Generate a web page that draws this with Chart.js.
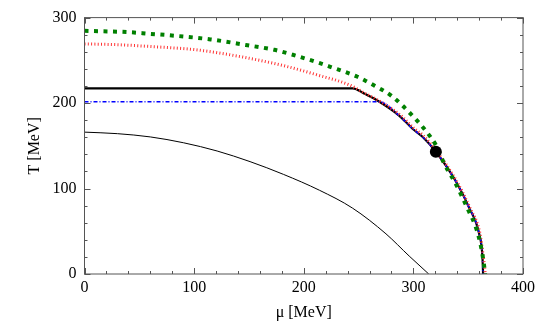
<!DOCTYPE html>
<html>
<head>
<meta charset="utf-8">
<script src="https://cdn.jsdelivr.net/npm/chart.js@4"></script>
<style>
  html, body { margin: 0; padding: 0; background: #fff; }
  #wrap { width: 540px; height: 323px; }
</style>
</head>
<body>
<div id="wrap"><canvas id="plot"></canvas></div>
<script>
// curves, [mu, T] in MeV
const greenMu = [0, 40, 60, 75, 115, 147, 173, 190, 214, 223, 249, 265, 280, 299, 311, 320.5, 328, 339, 349, 358, 362, 364.5, 365.5];
const greenT  = [284.5, 283, 281, 279.6, 274.5, 268, 262.3, 256.5, 247, 243, 230.8, 220, 208.5, 185.4, 168, 150.8, 129.6, 104.6, 77.7, 50.8, 30, 10, 0];

const redMu = [0, 30, 60, 102, 144.5, 184, 211, 241.6, 255, 269.5, 288, 300, 309, 321.5, 339.5, 351.5, 360.8, 363.8, 365, 365.5];
const redT  = [269.2, 268.3, 266.2, 262.3, 253.8, 243, 233.4, 221.2, 212, 202, 186, 171, 162, 143, 108.5, 77.7, 47, 20, 8, 0];

const blackMu = [0, 244.6, 256, 269, 287, 299.2, 308.3, 320.5, 338.7, 350.8, 360, 363, 363.6];
const blackT  = [217.3, 217.3, 210.5, 201.6, 185.4, 170, 160.5, 143, 108.5, 77.7, 47, 20, 0];

const blueMu = [0, 268.9, 287, 299.2, 308.3, 320.5, 338.7, 350.8, 360, 363, 363.6];
const blueT  = [201.6, 201.6, 185.4, 170, 160.5, 143, 108.5, 77.7, 47, 20, 0];

const thinMu = [0, 30, 60, 90.5, 121, 151, 181.6, 214.3, 244.6, 275, 296.2, 314];
const thinT  = [166, 164.2, 160.4, 153.5, 143.9, 131.5, 116.5, 98, 77, 47, 21, 0];

const pointMu = [320.5];
const pointT = [143];

const xTicks = [0, 100, 200, 300, 400];
const yTicks = [0, 100, 200, 300];

function pts(xs, ys) {
  return xs.map((x, i) => ({ x: x, y: ys[i] }));
}

const FONT = 'Liberation Serif';

// inward ticks on all four sides plus the frame
const framePlugin = {
  id: 'frame',
  afterDraw(chart) {
    const { ctx, chartArea: a, scales } = chart;
    const xs = scales.x, ys = scales.y;
    ctx.save();
    ctx.strokeStyle = '#555';
    ctx.lineWidth = 1;
    ctx.strokeRect(a.left, a.top, a.right - a.left, a.bottom - a.top);
    ctx.beginPath();
    for (let v = 0; v <= 400; v += 20) {
      const px = Math.round(xs.getPixelForValue(v)) + 0.5;
      const len = v % 100 === 0 ? 6 : 3;
      ctx.moveTo(px, a.bottom); ctx.lineTo(px, a.bottom - len);
      ctx.moveTo(px, a.top); ctx.lineTo(px, a.top + len);
    }
    for (let v = 0; v <= 300; v += 20) {
      const py = Math.round(ys.getPixelForValue(v)) + 0.5;
      const len = v % 100 === 0 ? 6 : 3;
      ctx.moveTo(a.left, py); ctx.lineTo(a.left + len, py);
      ctx.moveTo(a.right, py); ctx.lineTo(a.right - len, py);
    }
    ctx.stroke();
    ctx.restore();
  }
};

const lineBase = { showLine: true, pointRadius: 0, cubicInterpolationMode: 'monotone', fill: false };

new Chart(document.getElementById('plot'), {
  type: 'scatter',
  data: {
    datasets: [
      Object.assign({ order: 6, data: pts(thinMu, thinT), borderColor: '#000', borderWidth: 1 }, lineBase),
      Object.assign({ order: 5, data: pts(blackMu, blackT), borderColor: '#000', borderWidth: 2.2 }, lineBase),
      Object.assign({ order: 4, data: pts(blueMu, blueT), borderColor: '#0000ff', borderWidth: 1.5, borderDash: [4, 2, 1, 2] }, lineBase),
      Object.assign({ order: 3, data: pts(redMu, redT), borderColor: '#ff3333', borderWidth: 3, borderDash: [1, 2.3] }, lineBase),
      Object.assign({ order: 2, data: pts(greenMu, greenT), borderColor: '#008000', borderWidth: 4, borderDash: [4, 5.5] }, lineBase),
      { order: 1, data: pts(pointMu, pointT), showLine: false, pointRadius: 6, pointBorderWidth: 0,
        pointBackgroundColor: '#000', pointBorderColor: '#000' }
    ]
  },
  options: {
    responsive: true,
    maintainAspectRatio: false,
    animation: false,
    layout: { padding: { left: 0, right: 17, top: 14, bottom: 0 } },
    plugins: { legend: { display: false }, tooltip: { enabled: false } },
    scales: {
      x: {
        type: 'linear',
        min: 0, max: 400,
        afterFit(s) { s.height = 49; },
        afterBuildTicks(s) { s.ticks = xTicks.map(v => ({ value: v })); },
        grid: { display: false, drawTicks: false },
        border: { display: false },
        ticks: { color: '#000', padding: 4, maxRotation: 0, font: { family: FONT, size: 16 } },
        title: { display: true, text: 'μ [MeV]', color: '#000', padding: { top: 0, bottom: 1 }, font: { family: FONT, size: 16 } }
      },
      y: {
        type: 'linear',
        min: 0, max: 300,
        afterFit(s) { s.width = 84.5; },
        afterBuildTicks(s) { s.ticks = yTicks.map(v => ({ value: v })); },
        grid: { display: false, drawTicks: false },
        border: { display: false },
        ticks: { color: '#000', padding: 8, font: { family: FONT, size: 16 } },
        title: { display: true, text: 'T [MeV]', color: '#000', padding: { top: 25, bottom: 0 }, font: { family: FONT, size: 16 } }
      }
    }
  },
  plugins: [framePlugin]
});
</script>
</body>
</html>
